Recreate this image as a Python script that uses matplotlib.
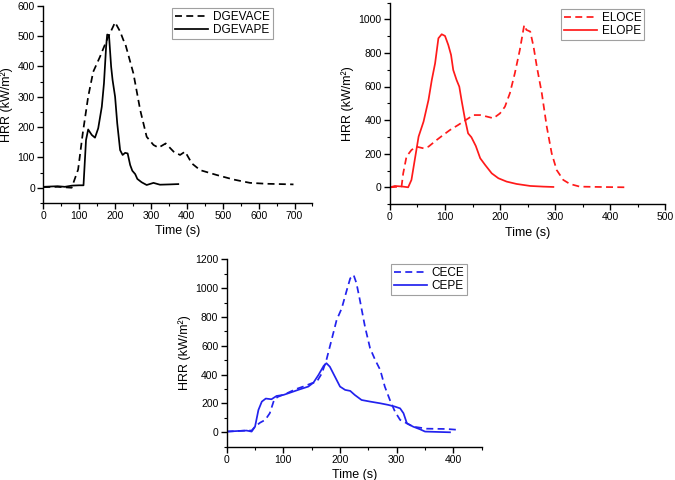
import matplotlib.pyplot as plt
from matplotlib.ticker import MultipleLocator

plt.rcParams['font.family'] = ['Liberation Sans', 'DejaVu Sans']

# DGEVACE (dashed) / DGEVAPE (solid)
t_dgevace = [0, 40, 79, 97, 110, 125, 139, 158, 177, 200, 214, 223, 228, 251, 270, 288,
             307, 321, 341, 363, 381, 395, 414, 437, 483, 530, 576, 623, 697]
v_dgevace = [2, 3, 0, 60, 180, 300, 382, 432, 487, 545, 515, 487, 476, 377, 256, 168,
             141, 132, 146, 119, 108, 119, 80, 58, 42, 27, 16, 13, 11]
t_dgevape = [0, 20, 40, 60, 80, 100, 112, 119, 125, 135, 144, 153, 163, 169, 175, 178,
             183, 189, 193, 200, 206, 214, 221, 228, 235, 242, 248, 256, 262, 274, 288,
             307, 325, 353, 376]
v_dgevape = [3, 4, 5, 3, 7, 8, 8, 157, 192, 174, 165, 196, 267, 344, 465, 505,
             503, 399, 355, 300, 212, 124, 108, 115, 113, 75, 56, 45, 29, 18, 9,
             16, 10, 11, 12]

# ELOCE (dashed) / ELOPE (solid)
t_eloce = [0, 15, 21, 24, 30, 39, 48, 61, 70, 85, 97, 109, 124, 136, 152, 164, 176,
           188, 200, 209, 218, 227, 236, 244, 248, 255, 261, 267, 276, 285, 294, 303,
           315, 327, 345, 382, 430]
v_eloce = [0, 3, 5, 83, 183, 222, 242, 232, 242, 282, 312, 341, 371, 397, 430, 430, 421,
           411, 440, 480, 560, 679, 817, 966, 937, 927, 837, 718, 560, 361, 202, 103,
           44, 20, 4, 2, 0]
t_elope = [0, 9, 24, 33, 39, 45, 52, 61, 70, 76, 82, 88, 94, 100, 106, 111, 115, 121,
           126, 130, 136, 142, 148, 156, 164, 173, 185, 197, 212, 230, 255, 279, 297]
v_elope = [0, 8, 4, 0, 44, 163, 302, 391, 520, 639, 738, 887, 911, 901, 847, 788, 698, 639,
           599, 520, 411, 321, 298, 246, 173, 133, 83, 54, 34, 20, 8, 4, 2]

# CECE (dashed) / CEPE (solid)
t_cece = [0, 35, 44, 50, 59, 68, 76, 84, 91, 106, 121, 135, 150, 159, 168, 176, 185,
          194, 203, 212, 218, 224, 229, 235, 244, 253, 262, 271, 279, 288, 297, 306,
          318, 329, 353, 388, 411]
v_cece = [5, 12, 12, 39, 67, 86, 132, 229, 247, 270, 298, 317, 340, 351, 409, 502, 640,
          779, 860, 987, 1068, 1091, 1034, 918, 733, 583, 502, 432, 317, 224, 143, 86,
          62, 39, 25, 23, 16]
t_cepe = [0, 35, 44, 50, 56, 62, 69, 79, 88, 100, 112, 129, 144, 153, 162, 171, 176,
          182, 191, 200, 209, 218, 226, 238, 253, 271, 285, 297, 306, 312, 318, 329,
          341, 350, 376, 394]
v_cepe = [5, 12, 5, 39, 155, 213, 234, 229, 252, 259, 275, 298, 317, 344, 398, 460, 479,
          455, 386, 317, 294, 287, 259, 224, 213, 201, 190, 178, 166, 132, 62, 39,
          21, 5, 2, 0]

W, H = 675, 480
fig = plt.figure(figsize=(W / 100, H / 100), dpi=100)


def make_axes(left, right, top, bottom):
    return fig.add_axes([left / W, (H - bottom) / H, (right - left) / W, (bottom - top) / H])


def style(ax, xlim, ylim, xmaj, ymaj):
    ax.set_xlim(*xlim)
    ax.set_ylim(*ylim)
    ax.xaxis.set_major_locator(MultipleLocator(xmaj))
    ax.xaxis.set_minor_locator(MultipleLocator(xmaj / 2))
    ax.yaxis.set_major_locator(MultipleLocator(ymaj))
    ax.yaxis.set_minor_locator(MultipleLocator(ymaj / 2))
    for s in ['top', 'right']:
        ax.spines[s].set_visible(False)
    for s in ['left', 'bottom']:
        ax.spines[s].set_linewidth(1.0)
    ax.tick_params(which='major', direction='out', length=4, width=1, labelsize=7.5, pad=2)
    ax.tick_params(which='minor', direction='out', length=2, width=0.8)
    ax.set_xlabel('Time (s)', fontsize=9, labelpad=3)
    ax.set_ylabel('HRR (kW/m²)', fontsize=9, labelpad=3)


def legend(ax, x, y):
    # x, y: upper-left corner of the legend box in pixels from the top-left of the figure
    leg = ax.legend(loc='upper left', bbox_to_anchor=(x / W, 1 - y / H),
                    bbox_transform=fig.transFigure, fontsize=8.5, frameon=True,
                    fancybox=False, handlelength=2.8, borderpad=0.25, labelspacing=0.1,
                    handletextpad=0.4, borderaxespad=0)
    leg.get_frame().set_edgecolor('#888888')
    leg.get_frame().set_linewidth(0.8)


dash = (0, (4, 2.5))
lw = 1.25

ax1 = make_axes(43.3, 312.5, 5.7, 202.9)
ax1.plot(t_dgevace, v_dgevace, color='black', lw=lw, linestyle=dash, label='DGEVACE')
ax1.plot(t_dgevape, v_dgevape, color='black', lw=lw, label='DGEVAPE')
style(ax1, (0, 750), (-50, 600), 100, 100)
legend(ax1, 172, 8)

ax2 = make_axes(390, 665, 2.5, 204.1)
ax2.plot(t_eloce, v_eloce, color='#ff1a1a', lw=lw, linestyle=dash, label='ELOCE')
ax2.plot(t_elope, v_elope, color='#ff1a1a', lw=lw, label='ELOPE')
style(ax2, (0, 500), (-100, 1100), 100, 200)
legend(ax2, 561, 9)

ax3 = make_axes(226.7, 481.7, 259.3, 446.7)
ax3.plot(t_cece, v_cece, color='#2222ee', lw=lw, linestyle=dash, label='CECE')
ax3.plot(t_cepe, v_cepe, color='#2222ee', lw=lw, label='CEPE')
style(ax3, (0, 450), (-100, 1200), 100, 200)
legend(ax3, 391, 264)

fig.savefig('out.png', dpi=100, facecolor='white')
